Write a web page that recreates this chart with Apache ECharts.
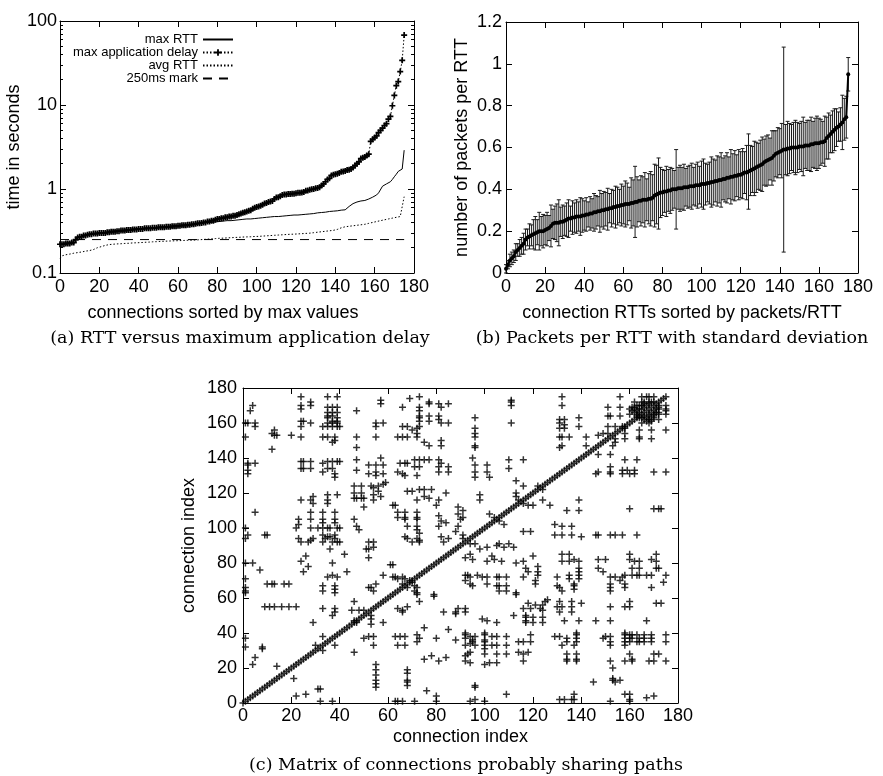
<!DOCTYPE html>
<html><head><meta charset="utf-8">
<script src="https://cdn.jsdelivr.net/npm/echarts@6/dist/echarts.min.js"></script>
<style>html,body{margin:0;padding:0;background:#fff}#c{width:883px;height:776px}</style>
</head><body><div id="c"></div>
<script>
// ---------- (a) RTT versus maximum application delay ----------
const maxAppDelay = [
0.22,0.22,0.22,0.225,0.225,0.225,0.23,0.23,0.25,0.265,
0.27,0.27,0.28,0.28,0.285,0.29,0.29,0.295,0.295,0.295,
0.3,0.3,0.3,0.3,0.305,0.305,0.31,0.31,0.31,0.315,
0.315,0.32,0.32,0.32,0.325,0.325,0.325,0.33,0.33,0.33,
0.335,0.335,0.335,0.34,0.34,0.34,0.34,0.345,0.345,0.345,
0.35,0.35,0.35,0.35,0.355,0.355,0.355,0.36,0.36,0.36,
0.365,0.365,0.37,0.37,0.37,0.375,0.375,0.38,0.38,0.385,
0.39,0.39,0.395,0.4,0.4,0.41,0.41,0.42,0.42,0.43,
0.44,0.44,0.45,0.45,0.46,0.46,0.47,0.47,0.48,0.48,
0.49,0.5,0.51,0.52,0.53,0.54,0.55,0.56,0.58,0.6,
0.61,0.62,0.63,0.65,0.67,0.68,0.7,0.71,0.72,0.76,
0.79,0.8,0.82,0.85,0.86,0.86,0.87,0.87,0.88,0.88,
0.89,0.9,0.9,0.91,0.92,0.95,0.96,0.98,0.99,1.0,
1.02,1.03,1.05,1.1,1.15,1.22,1.3,1.34,1.45,1.48,
1.5,1.52,1.55,1.6,1.62,1.64,1.68,1.7,1.73,1.8,
1.9,2.0,2.1,2.3,2.35,2.4,2.5,2.6,3.7,3.9,
4.1,4.3,4.7,5.0,5.3,5.7,6.0,6.8,7.3,9.8,
13,17,19,25,34,68];
const maxRTT = [
0.22,0.22,0.22,0.225,0.225,0.225,0.23,0.23,0.25,0.265,
0.27,0.27,0.28,0.28,0.285,0.29,0.29,0.295,0.295,0.295,
0.3,0.3,0.3,0.3,0.305,0.305,0.31,0.31,0.31,0.315,
0.315,0.32,0.32,0.32,0.325,0.325,0.325,0.33,0.33,0.33,
0.335,0.335,0.335,0.34,0.34,0.34,0.34,0.345,0.345,0.345,
0.35,0.35,0.35,0.35,0.355,0.355,0.355,0.36,0.36,0.36,
0.365,0.365,0.37,0.37,0.37,0.375,0.375,0.38,0.38,0.38,
0.385,0.39,0.39,0.395,0.395,0.4,0.4,0.4,0.405,0.405,
0.41,0.41,0.41,0.415,0.415,0.42,0.42,0.42,0.425,0.425,
0.43,0.43,0.43,0.435,0.435,0.44,0.44,0.44,0.445,0.445,
0.45,0.45,0.455,0.455,0.46,0.46,0.46,0.465,0.465,0.47,
0.47,0.47,0.475,0.475,0.48,0.48,0.48,0.485,0.485,0.49,
0.49,0.49,0.495,0.495,0.5,0.5,0.5,0.505,0.51,0.51,
0.515,0.52,0.52,0.525,0.53,0.53,0.535,0.54,0.54,0.545,
0.55,0.55,0.555,0.56,0.56,0.565,0.57,0.62,0.65,0.67,
0.69,0.7,0.71,0.72,0.73,0.73,0.74,0.76,0.78,0.8,
0.82,0.85,0.9,0.95,1.08,1.12,1.15,1.18,1.22,1.3,
1.4,1.5,1.62,1.68,1.73,2.9];
const avgRTT = [
0.15,0.16,0.163,0.165,0.167,0.168,0.17,0.172,0.173,0.175,
0.176,0.178,0.18,0.182,0.183,0.185,0.187,0.19,0.195,0.2,
0.203,0.206,0.21,0.213,0.215,0.218,0.22,0.22,0.221,0.222,
0.222,0.223,0.224,0.225,0.225,0.226,0.227,0.228,0.228,0.229,
0.23,0.23,0.231,0.232,0.233,0.233,0.234,0.235,0.235,0.236,
0.237,0.238,0.238,0.239,0.24,0.24,0.241,0.241,0.242,0.242,
0.243,0.243,0.244,0.244,0.245,0.245,0.246,0.246,0.247,0.247,
0.248,0.249,0.25,0.251,0.252,0.253,0.254,0.255,0.256,0.257,
0.258,0.259,0.26,0.26,0.261,0.262,0.263,0.263,0.264,0.265,
0.265,0.266,0.267,0.268,0.268,0.269,0.27,0.27,0.271,0.272,
0.272,0.273,0.274,0.275,0.276,0.277,0.278,0.279,0.28,0.281,
0.282,0.283,0.284,0.285,0.286,0.287,0.288,0.289,0.29,0.29,
0.291,0.292,0.293,0.294,0.295,0.296,0.297,0.298,0.3,0.302,
0.304,0.306,0.308,0.31,0.312,0.314,0.316,0.318,0.32,0.322,
0.325,0.33,0.34,0.345,0.35,0.355,0.36,0.36,0.362,0.365,
0.367,0.37,0.372,0.375,0.378,0.38,0.385,0.39,0.395,0.4,
0.405,0.41,0.415,0.42,0.425,0.43,0.435,0.44,0.445,0.45,
0.455,0.46,0.465,0.47,0.49,0.81];
const mark250ms = 0.25;
const mark250Range = [0, 175];

// ---------- (b) Packets per RTT with standard deviation ----------
const packetsMean = [
0.02,0.04,0.06,0.07,0.08,0.1,0.11,0.12,0.13,0.14,
0.16,0.17,0.175,0.18,0.185,0.19,0.195,0.2,0.2,0.2,
0.205,0.21,0.215,0.225,0.235,0.24,0.24,0.24,0.245,0.245,
0.25,0.255,0.26,0.26,0.265,0.265,0.27,0.27,0.27,0.275,
0.275,0.28,0.28,0.285,0.285,0.29,0.29,0.295,0.295,0.3,
0.3,0.305,0.305,0.31,0.31,0.315,0.315,0.32,0.32,0.325,
0.325,0.33,0.33,0.33,0.335,0.335,0.34,0.34,0.345,0.345,
0.35,0.35,0.35,0.355,0.355,0.36,0.37,0.375,0.38,0.385,
0.385,0.39,0.39,0.395,0.395,0.4,0.4,0.4,0.405,0.405,
0.405,0.41,0.41,0.41,0.415,0.415,0.415,0.42,0.42,0.42,
0.425,0.425,0.425,0.43,0.43,0.435,0.435,0.44,0.44,0.445,
0.445,0.45,0.45,0.455,0.455,0.46,0.46,0.465,0.465,0.47,
0.47,0.475,0.48,0.48,0.485,0.49,0.495,0.5,0.505,0.51,
0.515,0.52,0.53,0.535,0.54,0.545,0.55,0.56,0.57,0.575,
0.58,0.585,0.59,0.59,0.595,0.595,0.6,0.6,0.6,0.6,
0.605,0.605,0.605,0.61,0.61,0.61,0.615,0.615,0.62,0.62,
0.62,0.625,0.625,0.63,0.645,0.655,0.665,0.675,0.685,0.695,
0.7,0.71,0.72,0.735,0.745,0.95];
const packetsSd = [
0.02,0.02,0.03,0.03,0.03,0.04,0.03,0.04,0.04,0.05,
0.05,0.04,0.06,0.05,0.07,0.08,0.06,0.09,0.07,0.08,
0.07,0.08,0.06,0.1,0.07,0.08,0.09,0.11,0.07,0.08,
0.07,0.08,0.09,0.06,0.08,0.07,0.08,0.07,0.09,0.08,
0.07,0.08,0.06,0.08,0.07,0.09,0.08,0.07,0.1,0.08,
0.09,0.08,0.1,0.07,0.09,0.08,0.1,0.09,0.08,0.1,
0.09,0.11,0.1,0.08,0.12,0.11,0.17,0.12,0.1,0.12,
0.11,0.13,0.1,0.12,0.13,0.11,0.15,0.14,0.17,0.12,
0.11,0.1,0.12,0.1,0.11,0.1,0.09,0.19,0.1,0.11,
0.1,0.11,0.09,0.1,0.1,0.11,0.09,0.1,0.11,0.09,
0.11,0.12,0.1,0.09,0.1,0.12,0.11,0.1,0.12,0.11,
0.13,0.1,0.11,0.12,0.1,0.13,0.11,0.12,0.1,0.12,
0.11,0.12,0.1,0.13,0.18,0.12,0.11,0.13,0.12,0.11,
0.12,0.13,0.11,0.12,0.12,0.1,0.13,0.12,0.11,0.12,
0.11,0.13,0.49,0.12,0.13,0.12,0.11,0.12,0.13,0.12,
0.11,0.12,0.14,0.11,0.12,0.12,0.13,0.11,0.12,0.13,
0.12,0.11,0.1,0.12,0.1,0.11,0.09,0.1,0.1,0.09,
0.07,0.08,0.13,0.1,0.1,0.08];

// ---------- (c) Matrix of connections probably sharing paths ----------
const connectionCount = 176;
// pairs [i, j] of connections probably sharing a path (matrix is symmetric)
const sharedPairs = [
[24,175],[35,175],[39,175],[69,174],[73,175],
[4,170],[3,167],[24,170],[24,168],[28,172],[28,170],[35,169],[37,169],[39,169],[57,173],[57,171],[66,169],[73,169],[77,171],[77,172],[81,171],[85,171],[82,169],
[35,166],[37,166],[39,166],[35,164],[37,164],[39,163],[35,163],[37,161],[39,161],[35,160],[37,160],[39,160],[33,158],[35,158],[37,158],[39,158],[40,158],
[1,160],[2,160],[5,160],[5,158],[12,154],[13,153],[14,153],[13,156],[24,161],[24,158],[28,160],[25,161],[47,167],[55,160],[55,158],[58,160],[20,153],
[66,158],[68,158],[70,156],[72,157],[72,154],[73,158],[73,167],[73,164],[73,163],[73,161],[77,164],[77,161],[81,164],[81,162],[82,160],[85,160],
[1,152],[24,152],[33,152],[35,152],[38,152],[47,152],[55,152],[64,152],[66,152],[68,152],[72,152],
[12,145],[37,149],[38,150],[47,146],[75,149],[77,147],[82,150],[82,147],[57,140],
[2,137],[2,136],[5,137],[2,133],[2,131],
[24,138],[25,138],[28,138],[24,134],[25,134],[28,134],
[33,137],[35,138],[37,138],[39,138],[40,138],[35,134],[37,134],[38,131],[38,129],[33,132],
[47,139],[47,133],[52,136],[55,136],[58,136],[52,131],[55,132],[55,130],[58,131],
[65,137],[67,137],[68,137],[71,139],[73,139],[75,139],[77,139],[71,135],[73,135],[64,132],[66,131],[67,130],[72,130],
[81,139],[81,135],[82,137],[85,135],[81,132],[85,132],
[46,124],[49,124],[53,124],[56,124],[58,125],[59,126],[46,120],[47,117],[49,120],[50,117],[46,117],[49,117],
[54,123],[54,119],[54,116],[56,121],[57,118],[68,121],
[70,121],[73,122],[75,122],[78,122],[77,117],[75,118],[72,116],[84,120],[81,116],[80,113],
[50,112],[62,113],[63,113],[24,116],[28,116],[29,118],[29,114],[35,119],[35,116],[39,119],[35,114],
[5,109],[28,109],[28,105],[33,109],[33,105],[38,109],[38,105],[33,103],[38,103],[23,105],[23,102],[22,100],
[28,100],[31,100],[33,100],[35,100],[36,100],[39,100],[40,100],[35,95],[36,95],[38,96],[33,96],[46,105],[47,101],[48,99],
[64,109],[67,109],[64,106],[67,106],[67,105],[72,109],[72,106],[72,105],[68,101],
[72,101],[72,99],[73,97],[72,94],[73,93],[81,107],[82,104],[84,103],[81,101],[89,112],[89,108],[90,105],[89,101],
[91,96],[91,94],[88,98],[91,110],[91,106],
[1,100],[2,96],[1,94],[10,96],[9,96],[23,94],[24,92],[27,92],[28,93],[29,94],[34,94],[33,92],[37,92],[39,92],[40,92],[38,94],[52,92],[54,92],[67,95],[68,94],[70,92],[73,92],[82,95],[83,92],[85,94],
[51,88],[52,88],[54,89],[36,88],[52,83],[42,85],[24,81],[26,84],[25,75],[27,78],[37,80],[58,73],[61,79],[62,79],
[35,72],[37,73],[39,72],[43,75],[64,71],[67,71],[69,70],[68,66],[72,66],[72,63],[72,62],
[52,66],[53,66],[55,68],[54,64],[33,67],[33,64],[38,67],[38,65],[38,63],[33,54],[38,54],[38,52],[37,50],[29,46],
[9,55],[11,55],[13,55],[16,55],[19,55],[22,55],[10,68],[12,68],[13,68],[17,68],[19,68],
[4,80],[1,80],[7,76],[1,71],[1,66],[1,64],[1,63],[1,37],[1,32],[8,32],[8,31],[4,22],[5,26],[14,21],[30,33],[33,38],[46,58],[48,53],[50,53],[45,53],[46,47],
[111,173],[111,172],[111,170],[111,160],
[96,163],[96,157],[96,154],[96,152],[96,147],[96,146],
[95,140],[96,136],[96,132],[96,129],[101,136],[101,132],[102,129],[110,139],[110,134],[116,139],
[113,127],[116,124],[113,120],[113,118],[114,116],[122,124],[102,108],[104,106],[98,119],[98,116],
[132,175],[132,170],[131,162],[133,162],[131,160],[133,159],[131,157],[133,157],[131,152],[132,152],[135,152],[132,147],[131,146],
[139,163],[139,158],[142,152],[142,147],[147,153],[149,154],[151,154],[151,158],[154,158],[151,169],[151,164],[152,164],
[156,175],[156,169],[156,164],[157,158],[162,172],[162,169],[163,164],
[165,175],[167,175],[168,175],[170,175],[165,172],[166,172],[168,172],[169,172],[170,172],
[160,165],[161,167],[162,168],[163,167],[164,168],[164,170],[165,168],[165,170],[166,169],[166,171],[167,170],[168,171],[163,170],[162,166],[164,166],[160,168],[161,169],[163,165]
];

// ---------- build ----------
const FONT = 'Liberation Sans';
const SERIF = '"DejaVu Serif"';
const PLUS = 'path://M2.75,0h1.5v2.75h2.75v1.5h-2.75v2.75h-1.5v-2.75h-2.75v-1.5h2.75z';
const PLUS_BOLD = 'path://M2.5,0h2v2.5h2.5v2h-2.5v2.5h-2v-2.5h-2.5v-2h2.5z';
const idxPairs = arr => arr.map((v, i) => [i, v]);

const matrixPoints = [];
for (let i = 0; i < connectionCount; i++) matrixPoints.push([i, i]);
sharedPairs.forEach(p => { matrixPoints.push([p[0], p[1]]); matrixPoints.push([p[1], p[0]]); });

const errData = packetsMean.map((m, i) => [i, m - packetsSd[i], m + packetsSd[i]]);

function txt(size) { return {color: '#000', fontFamily: FONT, fontSize: size}; }
function xAx(grid, pos, show, extra) {
  return Object.assign({
    gridIndex: grid, type: 'value', position: pos, min: 0, max: 180, interval: 20,
    axisLine: {show: true, onZero: false, lineStyle: {color: '#000', width: 1}},
    axisTick: {show: true, inside: true, length: 6, lineStyle: {color: '#000'}},
    axisLabel: Object.assign({show: show, margin: 5}, txt(18)),
    splitLine: {show: false},
    nameLocation: 'middle',
    nameTextStyle: txt(18)
  }, extra || {});
}
function yAx(grid, pos, show, extra) {
  return Object.assign({
    gridIndex: grid, type: 'value', position: pos,
    axisLine: {show: true, onZero: false, lineStyle: {color: '#000', width: 1}},
    axisTick: {show: true, inside: true, length: 6, lineStyle: {color: '#000'}},
    axisLabel: Object.assign({show: show, margin: 4}, txt(18)),
    splitLine: {show: false},
    nameLocation: 'middle',
    nameTextStyle: txt(18)
  }, extra || {});
}
const logExtra = {type: 'log', logBase: 10, min: 0.1, max: 100,
  minorTick: {show: true, splitNumber: 9, length: 3, lineStyle: {color: '#000'}}};

const chart = echarts.init(document.getElementById('c'), null, {renderer: 'canvas'});
chart.setOption({
  animation: false,
  backgroundColor: '#fff',
  grid: [
    {left: 60, top: 21, width: 354, height: 252},
    {left: 506, top: 22, width: 352, height: 251},
    {left: 243, top: 388, width: 435, height: 315}
  ],
  xAxis: [
    xAx(0, 'bottom', true, {name: 'connections sorted by max values', nameGap: 31,
      nameTextStyle: Object.assign({padding: [0, 28, 0, 0]}, txt(18))}),
    xAx(0, 'top', false),
    xAx(1, 'bottom', true, {name: 'connection RTTs sorted by packets/RTT', nameGap: 31}),
    xAx(1, 'top', false),
    xAx(2, 'bottom', true, {name: 'connection index', nameGap: 25,
      axisLabel: Object.assign({margin: 4}, txt(18))}),
    xAx(2, 'top', false)
  ],
  yAxis: [
    yAx(0, 'left', true, Object.assign({name: 'time in seconds', nameGap: 32}, logExtra,
      {axisLabel: Object.assign({margin: 3}, txt(18))})),
    yAx(0, 'right', false, logExtra),
    yAx(1, 'left', true, {name: 'number of packets per RTT', nameGap: 35, min: 0, max: 1.2, interval: 0.2}),
    yAx(1, 'right', false, {min: 0, max: 1.2, interval: 0.2}),
    yAx(2, 'left', true, {name: 'connection index', nameGap: 45, min: 0, max: 180, interval: 20,
      axisLabel: Object.assign({margin: 6}, txt(18))}),
    yAx(2, 'right', false, {min: 0, max: 180, interval: 20})
  ],
  legend: {
    orient: 'vertical', align: 'right', right: 649, top: 33,
    itemWidth: 30, itemHeight: 8, itemGap: 0, selectedMode: false, padding: 0,
    textStyle: {color: '#000', fontFamily: FONT, fontSize: 13, lineHeight: 12.5},
    data: [
      {name: 'max RTT', itemStyle: {opacity: 0}},
      {name: 'max application delay'},
      {name: 'avg RTT', itemStyle: {opacity: 0}},
      {name: '250ms mark', itemStyle: {opacity: 0}}
    ]
  },
  series: [
    {name: 'max RTT', type: 'line', xAxisIndex: 0, yAxisIndex: 0, data: idxPairs(maxRTT),
     symbol: 'none', lineStyle: {color: '#000', width: 1}, itemStyle: {color: '#000'}},
    {name: 'avg RTT', type: 'line', xAxisIndex: 0, yAxisIndex: 0, data: idxPairs(avgRTT),
     symbol: 'none', lineStyle: {color: '#000', width: 1, type: [1.5, 2]}, itemStyle: {color: '#000'}},
    {name: '250ms mark', type: 'line', xAxisIndex: 0, yAxisIndex: 0,
     data: mark250Range.map(x => [x, mark250ms]),
     symbol: 'none', lineStyle: {color: '#000', width: 1, type: [9, 7]}, itemStyle: {color: '#000'}},
    {name: 'max application delay', type: 'line', xAxisIndex: 0, yAxisIndex: 0, data: idxPairs(maxAppDelay),
     symbol: PLUS_BOLD, symbolSize: 6, showAllSymbol: true,
     lineStyle: {color: '#000', width: 1, type: [1.5, 2]}, itemStyle: {color: '#000'}},
    {name: 'sd', type: 'custom', xAxisIndex: 2, yAxisIndex: 2, data: errData,
     renderItem: function (params, api) {
       const x = api.value(0);
       const top = api.coord([x, api.value(2)]);
       const bot = api.coord([x, api.value(1)]);
       const hw = 2;
       const st = {stroke: '#1a1a1a', lineWidth: 1};
       return {type: 'group', children: [
         {type: 'line', shape: {x1: top[0], y1: top[1], x2: bot[0], y2: bot[1]}, style: st},
         {type: 'line', shape: {x1: top[0] - hw, y1: top[1], x2: top[0] + hw, y2: top[1]}, style: st},
         {type: 'line', shape: {x1: bot[0] - hw, y1: bot[1], x2: bot[0] + hw, y2: bot[1]}, style: st}
       ]};
     }},
    {name: 'mean', type: 'line', xAxisIndex: 2, yAxisIndex: 2, data: idxPairs(packetsMean),
     symbol: 'circle', symbolSize: 4, showAllSymbol: true, lineStyle: {color: '#000', width: 2}, itemStyle: {color: '#000'}},
    {name: 'matrix', type: 'scatter', xAxisIndex: 4, yAxisIndex: 4, data: matrixPoints,
     symbol: PLUS, symbolSize: 7, itemStyle: {color: '#000'}}
  ],
  graphic: [
    {type: 'text', style: {text: '(a) RTT versus maximum application delay', x: 240, y: 338, textAlign: 'center', textVerticalAlign: 'middle', font: '17.5px ' + SERIF, fill: '#000'}},
    {type: 'text', style: {text: '(b) Packets per RTT with standard deviation', x: 672, y: 338, textAlign: 'center', textVerticalAlign: 'middle', font: '17.5px ' + SERIF, fill: '#000'}},
    {type: 'text', style: {text: '(c) Matrix of connections probably sharing paths', x: 466, y: 765, textAlign: 'center', textVerticalAlign: 'middle', font: '17.5px ' + SERIF, fill: '#000'}}
  ]
});
</script>
</body></html>
